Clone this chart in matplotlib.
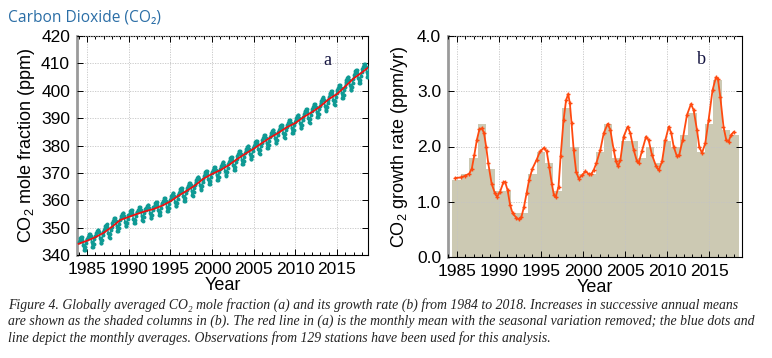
"""Globally averaged CO2 mole fraction and its growth rate (two panels)."""
import matplotlib
matplotlib.use("Agg")
import matplotlib.pyplot as plt
import numpy as np
from matplotlib.ticker import MultipleLocator, FormatStrFormatter

# ---- panel a: deseasonalised trend, read at 1 Jan of each year 1984..2019
trend_years = list(range(1984, 2020))
trend_ppm = [344.1, 345.2, 346.5, 348.1, 350.3, 352.8, 353.9, 355.0, 356.0, 356.8,
             358.0, 359.6, 361.7, 363.5, 365.5, 367.9, 369.6, 371.0, 372.8, 375.0,
             377.0, 378.8, 380.9, 382.9, 384.7, 386.7, 388.2, 390.4, 392.2, 394.3,
             396.9, 398.8, 401.6, 404.5, 406.7, 409.1]

# annual means 1984..2018
annual_years = list(range(1984, 2019))
annual_ppm = [344.65, 345.85, 347.3, 349.2, 351.55, 353.35, 354.45, 355.5, 356.4, 357.4,
              358.8, 360.65, 362.6, 364.5, 366.7, 368.75, 370.3, 371.9, 373.9, 376.0,
              377.9, 379.85, 381.9, 383.8, 385.7, 387.45, 389.3, 391.3, 393.25, 395.6,
              397.85, 400.2, 403.05, 405.6, 407.9]

# mean departure of each month from its annual mean (Jan..Dec)
month_departure = [0.03, 0.79, 1.45, 1.90, 1.96, 0.92, -1.12, -2.76, -2.90, -1.65, -0.09, 1.17]

# ---- panel b: increases in successive annual means
bar_years = list(range(1985, 2019))
bar_growth = [1.4, 1.5, 1.8, 2.4, 1.6, 1.2, 1.2, 0.8, 0.8, 1.5,
              1.9, 1.7, 1.2, 2.7, 2.0, 1.5, 1.5, 1.9, 2.4, 1.8,
              2.1, 2.1, 1.8, 2.0, 1.7, 2.1, 2.0, 2.2, 2.6, 1.9,
              2.4, 3.2, 2.3, 2.2]

# smoothed growth rate curve
rate_t = [1984.85, 1985.5, 1986.0, 1986.5, 1986.8, 1987.1, 1987.4, 1987.7, 1988.0, 1988.25,
          1988.5, 1988.75, 1989.15, 1989.55, 1989.8, 1990.15, 1990.55, 1990.75, 1991.05, 1991.35,
          1991.65, 1992.1, 1992.4, 1992.7, 1993.0, 1993.3, 1993.6, 1994.0, 1994.5, 1994.9,
          1995.4, 1995.7, 1996.0, 1996.3, 1996.55, 1996.75, 1997.1, 1997.35, 1997.7, 1998.0,
          1998.25, 1998.45, 1998.65, 1998.9, 1999.2, 1999.5, 1999.9, 2000.3, 2000.7, 2001.0,
          2001.3, 2001.6, 2002.07, 2002.47, 2002.94, 2003.26, 2003.65, 2003.93, 2004.17, 2004.45,
          2004.84, 2005.32, 2005.63, 2006.03, 2006.42, 2006.62, 2007.0, 2007.5, 2007.8, 2008.2,
          2008.7, 2009.0, 2009.4, 2009.8, 2010.2, 2010.5, 2010.78, 2011.17, 2011.45, 2011.85,
          2012.36, 2012.84, 2013.15, 2013.55, 2013.82, 2014.14, 2014.54, 2014.93, 2015.4, 2015.8,
          2016.04, 2016.32, 2016.7, 2017.03, 2017.3, 2017.6, 2017.9]
rate_v = [1.43, 1.44, 1.47, 1.51, 1.60, 1.85, 2.12, 2.31, 2.33, 2.24,
          2.00, 1.70, 1.33, 1.15, 1.09, 1.18, 1.35, 1.36, 1.21, 0.94,
          0.79, 0.71, 0.68, 0.73, 0.91, 1.15, 1.39, 1.60, 1.76, 1.91,
          1.98, 1.91, 1.63, 1.33, 1.12, 1.08, 1.27, 1.82, 2.48, 2.84,
          2.95, 2.78, 2.42, 1.94, 1.54, 1.42, 1.48, 1.55, 1.50, 1.50,
          1.58, 1.70, 1.94, 2.24, 2.41, 2.30, 1.94, 1.73, 1.64, 1.76,
          2.18, 2.36, 2.24, 1.94, 1.73, 1.70, 1.91, 2.18, 2.12, 1.85,
          1.64, 1.57, 1.73, 2.12, 2.36, 2.24, 2.00, 1.82, 1.85, 2.12,
          2.57, 2.77, 2.66, 2.30, 2.00, 1.88, 2.06, 2.48, 3.02, 3.25,
          3.22, 2.90, 2.36, 2.12, 2.09, 2.21, 2.26]

caption = [
    "Figure 4. Globally averaged CO\u2082 mole fraction (a) and its growth rate (b) from 1984 to 2018. "
    "Increases in successive annual means",
    "are shown as the shaded columns in (b). The red line in (a) is the monthly mean with the seasonal "
    "variation removed; the blue dots and",
    "line depict the monthly averages. Observations from 129 stations have been used for this analysis.",
]

plt.rcParams["font.family"] = ["Liberation Sans", "DejaVu Sans"]
plt.rcParams["mathtext.fontset"] = "custom"
plt.rcParams["mathtext.rm"] = "Liberation Sans"
plt.rcParams["mathtext.it"] = "Liberation Sans:italic"

fig = plt.figure(figsize=(7.72, 3.58), dpi=100)
ax1 = fig.add_axes([77 / 772, 1 - 255 / 358, 291 / 772, 219 / 358])
ax2 = fig.add_axes([448 / 772, 1 - 257 / 358, 294 / 772, 221 / 358])


def style_axes(ax):
    ax.grid(True, which="major", color="#c4c4c4", linestyle=(0, (1.5, 1.5)), linewidth=0.6)
    ax.set_axisbelow(False)
    ax.tick_params(which="both", direction="in", top=True, right=True, labelsize=12.5,
                   colors="black", width=0.7)
    ax.tick_params(which="major", length=4)
    ax.tick_params(which="minor", length=2)
    ax.tick_params(axis="x", pad=5)
    ax.tick_params(axis="y", pad=5)
    for side in ("top", "right", "bottom"):
        ax.spines[side].set_linewidth(0.8)
    ax.spines["left"].set_color("#9a9a9a")
    ax.spines["left"].set_linewidth(2.0)
    ax.xaxis.set_major_locator(MultipleLocator(5))
    ax.xaxis.set_minor_locator(MultipleLocator(1))
    ax.set_xlabel("Year", fontsize=13, labelpad=0)


# panel a
months = []
monthly_ppm = []
for yr, mean in zip(annual_years, annual_ppm):
    for m, dep in enumerate(month_departure):
        months.append(yr + (m + 0.5) / 12)
        monthly_ppm.append(mean + dep)

ax1.plot(months, monthly_ppm, color="#0f9a94", linewidth=1.1, marker="o", markersize=2.8,
         markeredgewidth=0, zorder=3)
ax1.plot(trend_years, trend_ppm, color="#ee1111", linewidth=1.3, zorder=4)
ax1.set_xlim(1983.8, 2018.72)
ax1.set_ylim(340, 420)
ax1.yaxis.set_major_locator(MultipleLocator(10))
style_axes(ax1)
ax1.set_ylabel("CO$_2$ mole fraction (ppm)", fontsize=13, labelpad=3)
ax1.text(2013.9, 410.9, "a", family="Liberation Serif", fontsize=13, color="#141440",
         ha="center", va="center")

# panel b
ax2.bar(bar_years, bar_growth, width=1.0, color="#ccc9b3", edgecolor="none", zorder=1)
ax2.plot(rate_t, rate_v, color="#ff4a10", linewidth=1.3, marker="+", markersize=3.4,
         markeredgewidth=1.0, zorder=4)
ax2.set_xlim(1983.97, 2018.9)
ax2.set_ylim(0, 4)
ax2.yaxis.set_major_locator(MultipleLocator(1))
ax2.yaxis.set_major_formatter(FormatStrFormatter("%.1f"))
style_axes(ax2)
ax2.set_ylabel("CO$_2$ growth rate (ppm/yr)", fontsize=13, labelpad=5)
ax2.text(2014.06, 3.57, "b", family="Liberation Serif", fontsize=13, color="#141440",
         ha="center", va="center")

fig.text(8 / 772, 1 - 17 / 358, "Carbon Dioxide (CO\u2082)", family=["Open Sans", "DejaVu Sans"],
         fontsize=11.2, color="#2b6ea6", ha="left", va="center")

for i, line in enumerate(caption):
    fig.text(8 / 772, 1 - (305 + 16.5 * i) / 358, line, family=["Liberation Serif", "DejaVu Serif"],
             style="italic", fontsize=9.9, color="#222222", ha="left", va="center")

fig.savefig("out.png", dpi=100)
